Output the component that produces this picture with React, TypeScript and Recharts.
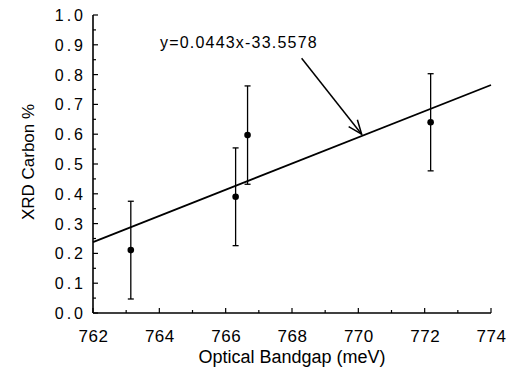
import React from 'react'
import { ComposedChart, Scatter, XAxis, YAxis, ErrorBar, ReferenceLine, ReferenceDot } from 'recharts'

const bandgap = [763.14, 766.3, 766.66, 772.18]
const carbon = [0.211, 0.39, 0.597, 0.64]
const carbonErr = [0.164, 0.164, 0.165, 0.163]

const xTicks = [762, 763, 764, 765, 766, 767, 768, 769, 770, 771, 772, 773, 774]
const yTicks = [0, 0.05, 0.1, 0.15, 0.2, 0.25, 0.3, 0.35, 0.4, 0.45, 0.5, 0.55, 0.6, 0.65, 0.7, 0.75, 0.8, 0.85, 0.9, 0.95, 1.0]

const fitLine = [{ x: 762, y: 0.238 }, { x: 774, y: 0.765 }]
const arrowLine = [{ x: 768.29, y: 0.855 }, { x: 770.1, y: 0.6 }]
const equationText = 'y=0.0443x-33.5578'
const equationAt = { x: 764.02, y: 0.909 }

const xTitle = 'Optical Bandgap (meV)'
const yTitle = 'XRD Carbon %'

const font = 'Liberation Sans, Arial, sans-serif'

const points = bandgap.map((x, i) => ({ x, y: carbon[i], err: carbonErr[i] }))

const isMajorX = (v: number) => Math.round(v) % 2 === 0
const isMajorY = (v: number) => Math.round(v * 100) % 10 === 0

const BottomTick = ({ x, y, payload }: any) => {
  const v = payload.value
  const major = isMajorX(v)
  return (
    <g>
      <line x1={x} y1={y} x2={x} y2={y - (major ? 5 : 3)} stroke="#000" strokeWidth={1.2} />
      {major && (
        <text x={x + 0.5} y={y + 29} textAnchor="middle" fontSize={17} fontFamily={font} fill="#000" letterSpacing={0.5}>
          {v}
        </text>
      )}
    </g>
  )
}

const TopTick = ({ x, y, payload }: any) => {
  const major = isMajorX(payload.value)
  return <line x1={x} y1={y} x2={x} y2={y + (major ? 5 : 3)} stroke="#000" strokeWidth={1.2} />
}

const LeftTick = ({ x, y, payload }: any) => {
  const v = payload.value
  const major = isMajorY(v)
  return (
    <g>
      <line x1={x} y1={y} x2={x + (major ? 5 : 3)} y2={y} stroke="#000" strokeWidth={1.2} />
      {major && (
        <text x={x - 7} y={y + 6} textAnchor="end" fontSize={16} fontFamily={font} fill="#000" letterSpacing={3}>
          {v.toFixed(1)}
        </text>
      )}
    </g>
  )
}

const RightTick = ({ x, y, payload }: any) => {
  const major = isMajorY(payload.value)
  return <line x1={x} y1={y} x2={x - (major ? 5 : 3)} y2={y} stroke="#000" strokeWidth={1.2} />
}

const ArrowShape = (p: any) => {
  const { x1, y1, x2, y2 } = p
  const ang = Math.atan2(y2 - y1, x2 - x1)
  const len = 15
  const spread = 0.38
  const ax = x2 - len * Math.cos(ang - spread)
  const ay = y2 - len * Math.sin(ang - spread)
  const bx = x2 - len * Math.cos(ang + spread)
  const by = y2 - len * Math.sin(ang + spread)
  return (
    <g>
      <line x1={x1} y1={y1} x2={x2} y2={y2} stroke="#000" strokeWidth={1.5} />
      <polyline points={`${ax},${ay} ${x2},${y2} ${bx},${by}`} fill="none" stroke="#000" strokeWidth={1.5} />
    </g>
  )
}

const App = () => {
  return (
    <div style={{ position: 'absolute', left: 0, top: 0, background: '#fff' }}>
      <ComposedChart width={513} height={379} data={points} margin={{ top: 15, right: 22, bottom: 6, left: 33 }}>
        <XAxis
          dataKey="x"
          type="number"
          domain={[762, 774]}
          ticks={xTicks}
          interval={0}
          tickSize={0}
          tickMargin={0}
          tickLine={false}
          tick={BottomTick}
          height={60}
          axisLine={{ stroke: '#000', strokeWidth: 1.6 }}
          allowDataOverflow
          label={{
            content: (props: any) => {
              const vb = props.viewBox
              return (
                <text x={vb.x + vb.width / 2} y={vb.y + 50} textAnchor="middle" fontSize={18} fontFamily={font} fill="#000">
                  {xTitle}
                </text>
              )
            },
          }}
        />
        <XAxis
          xAxisId="top"
          orientation="top"
          type="number"
          domain={[762, 774]}
          ticks={xTicks}
          interval={0}
          tickSize={0}
          tickMargin={0}
          tickLine={false}
          tick={TopTick}
          height={0}
          axisLine={{ stroke: '#000', strokeWidth: 1.6 }}
          allowDataOverflow
        />
        <YAxis
          type="number"
          domain={[0, 1]}
          ticks={yTicks}
          interval={0}
          tickSize={0}
          tickMargin={0}
          tickLine={false}
          tick={LeftTick}
          width={60}
          axisLine={{ stroke: '#000', strokeWidth: 1.6 }}
          allowDataOverflow
          label={{
            content: (props: any) => {
              const vb = props.viewBox
              const cx = vb.x + 1
              const cy = vb.y + vb.height / 2 - 2
              return (
                <text
                  x={cx}
                  y={cy}
                  transform={`rotate(-90, ${cx}, ${cy})`}
                  textAnchor="middle"
                  fontSize={17}
                  fontFamily={font}
                  fill="#000"
                >
                  {yTitle}
                </text>
              )
            },
          }}
        />
        <YAxis
          yAxisId="right"
          orientation="right"
          type="number"
          domain={[0, 1]}
          ticks={yTicks}
          interval={0}
          tickSize={0}
          tickMargin={0}
          tickLine={false}
          tick={RightTick}
          width={0}
          axisLine={{ stroke: '#000', strokeWidth: 1.6 }}
          allowDataOverflow
        />
        <ReferenceLine segment={fitLine} stroke="#000" strokeWidth={1.8} />
        <ReferenceLine segment={arrowLine} shape={ArrowShape} />
        <ReferenceDot
          x={equationAt.x}
          y={equationAt.y}
          r={0}
          fill="none"
          stroke="none"
          label={{
            content: (props: any) => {
              const vb = props.viewBox
              return (
                <text x={vb.x} y={vb.y + 6} textAnchor="start" fontSize={16} fontFamily={font} fill="#000" letterSpacing={1.2}>
                  {equationText}
                </text>
              )
            },
          }}
        />
        <Scatter
          dataKey="y"
          isAnimationActive={false}
          shape={(p: any) => <circle cx={p.cx} cy={p.cy} r={3.3} fill="#000" />}
        >
          <ErrorBar dataKey="err" direction="y" width={3} stroke="#000" strokeWidth={1.3} />
        </Scatter>
      </ComposedChart>
    </div>
  )
}

export default App
